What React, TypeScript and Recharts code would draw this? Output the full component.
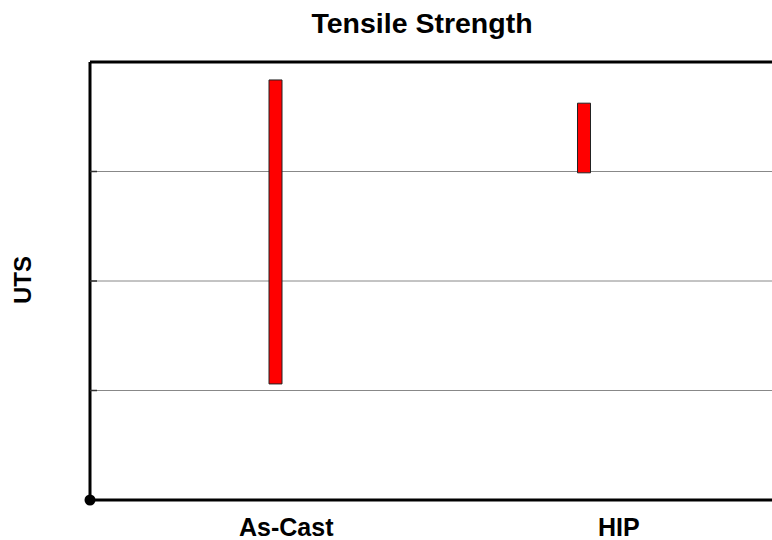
import React from "react";
import {
  BarChart,
  Bar,
  XAxis,
  YAxis,
  CartesianGrid,
  ReferenceLine,
} from "recharts";

const categories = ["As-Cast", "HIP"];
const utsLow = [265, 747];
const utsHigh = [959, 906];
const yTicks = [0, 250, 500, 750, 1000];

const data = categories.map((name, i) => ({ name, uts: [utsLow[i], utsHigh[i]] }));

const FONT = "'Liberation Sans', Arial, Helvetica, sans-serif";

// small inward tick marks on the value axis, with the dot at the origin
const YTick = (props: any) => {
  const { x, y, payload } = props;
  if (payload.value === 0) {
    return <circle cx={x} cy={y} r={5.5} fill="#000" />;
  }
  if (payload.value === 1000) return <g />;
  return <line x1={x} y1={y} x2={x + 7} y2={y} stroke="#333" strokeWidth={1.5} />;
};

const App = () => {
  return (
    <div style={{ position: "absolute", left: 0, top: 0, width: 772, height: 540, overflow: "hidden", background: "#fff" }}>
      <div
        style={{
          position: "absolute",
          left: 222,
          width: 400,
          top: 9,
          textAlign: "center",
          fontFamily: FONT,
          fontWeight: "bold",
          fontSize: 28.5,
          lineHeight: "28px",
          color: "#000",
        }}
      >
        Tensile Strength
      </div>
      <div
        style={{
          position: "absolute",
          left: 23 - 50,
          top: 280 - 14,
          width: 100,
          height: 28,
          lineHeight: "28px",
          textAlign: "center",
          transform: "rotate(-90deg)",
          fontFamily: FONT,
          fontWeight: "bold",
          fontSize: 24,
          color: "#000",
        }}
      >
        UTS
      </div>
      <BarChart width={830} height={540} data={data} margin={{ top: 62, right: 30, left: 0, bottom: 0 }}>
        <CartesianGrid xAxisId="bars" horizontal vertical={false} stroke="#888" strokeWidth={1} />
        <XAxis xAxisId="bars" dataKey="name" hide height={0} padding={{ left: 31, right: 62 }} />
        <XAxis
          xAxisId="labels"
          dataKey="name"
          height={40}
          interval={0}
          padding={{ left: 30, right: 15 }}
          tickLine={false}
          tickSize={0}
          tickMargin={18}
          axisLine={{ stroke: "#000", strokeWidth: 3 }}
          tick={{ fill: "#000", fontSize: 25, fontWeight: "bold", fontFamily: FONT }}
        />
        <YAxis
          domain={[0, 1000]}
          ticks={yTicks}
          width={90}
          tickLine={false}
          tickSize={0}
          tickMargin={0}
          axisLine={{ stroke: "#000", strokeWidth: 3 }}
          tick={YTick}
        />
        <ReferenceLine xAxisId="bars" y={1000} stroke="#000" strokeWidth={3} />
        <Bar
          xAxisId="bars"
          dataKey="uts"
          barSize={13}
          fill="#ff0000"
          stroke="#222"
          strokeWidth={1}
          isAnimationActive={false}
        />
      </BarChart>
    </div>
  );
};

export default App;
